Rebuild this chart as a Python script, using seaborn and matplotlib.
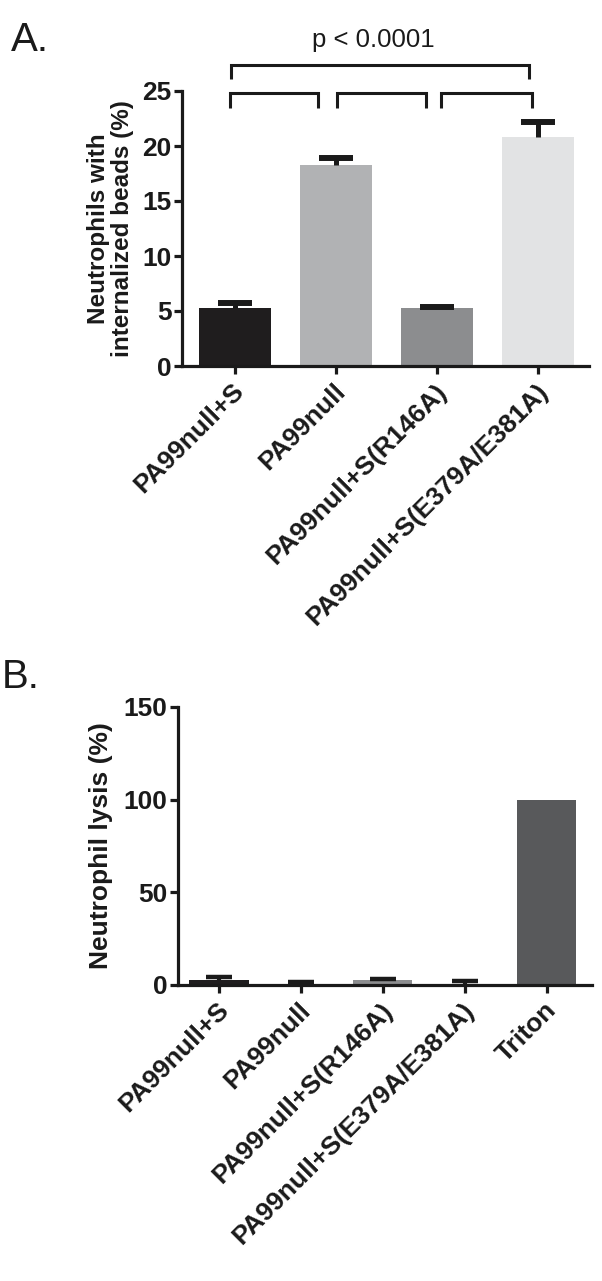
import matplotlib
matplotlib.use("Agg")
import matplotlib.pyplot as plt
import matplotlib.transforms as mtransforms
from matplotlib import font_manager
import seaborn as sns
import pandas as pd
import numpy as np

# ---------------- data ----------------
cats_a = ["PA99null+S", "PA99null", "PA99null+S(R146A)", "PA99null+S(E379A/E381A)"]
vals_a = [5.27, 18.3, 5.25, 20.8]
err_a = [0.43, 0.65, 0.12, 1.35]
colors_a = ["#1f1d1e", "#b1b2b4", "#8c8d8f", "#e2e3e4"]
yticks_a = [0, 5, 10, 15, 20, 25]

cats_b = ["PA99null+S", "PA99null", "PA99null+S(R146A)", "PA99null+S(E379A/E381A)", "Triton"]
vals_b = [2.6, 0.6, 2.9, 0.8, 100.0]
err_b = [1.5, 0.9, 0.6, 1.2, 0.0]
colors_b = ["#1f1d1e", "#b1b2b4", "#8c8d8f", "#e2e3e4", "#58595b"]
yticks_b = [0, 50, 100, 150]

ptext = "p < 0.0001"
ylabel_a = "Neutrophils with\ninternalized beads (%)"
ylabel_b = "Neutrophil lysis (%)"

# ---------------- style ----------------
sns.set_theme(style="ticks")
names = {f.name for f in font_manager.fontManager.ttflist}
fam = "Liberation Sans" if "Liberation Sans" in names else "DejaVu Sans"
plt.rcParams["font.family"] = [fam, "DejaVu Sans"]

fig = plt.figure(figsize=(6.02, 12.81), dpi=100)
W, H = 602, 1281
INK = "#1a1a1a"

def px_axes(l, r, top, bot):
    return fig.add_axes([l / W, 1 - bot / H, (r - l) / W, (bot - top) / H])

SP = 2.3  # spine width

def style_axis(ax, yticks, ylim, xlim, fs=19):
    ax.set_ylim(*ylim)
    ax.set_xlim(*xlim)
    ax.set_yticks(yticks)
    for s in ["top", "right"]:
        ax.spines[s].set_visible(False)
    for s in ["left", "bottom"]:
        ax.spines[s].set_linewidth(SP)
        ax.spines[s].set_color(INK)
        ax.spines[s].set_capstyle("projecting")
    ax.tick_params(axis="both", direction="out", length=5.5, width=SP, color=INK,
                   labelsize=fs, pad=2)
    for lab in ax.get_yticklabels():
        lab.set_fontweight("bold")
        lab.set_color(INK)
    ax.set_xlabel("")
    ax.patch.set_alpha(0)

def rot_labels(ax, labels, fs=19):
    ax.set_xticks(range(len(labels)))
    ax.set_xticklabels(labels, rotation=45, ha="right", va="top",
                       rotation_mode="anchor", fontsize=fs, fontweight="bold",
                       color=INK)
    off = mtransforms.ScaledTranslation(-2 / 72, -2 / 72, fig.dpi_scale_trans)
    for lab in ax.get_xticklabels():
        lab.set_transform(lab.get_transform() + off)

def up_errors(ax, vals, errs, half, stem_lw, cap_lw):
    x = np.arange(len(vals))
    v = np.asarray(vals, float)
    e = np.asarray(errs, float)
    m = e > 0
    ax.errorbar(x[m], v[m], yerr=[np.zeros(m.sum()), e[m]], fmt="none",
                ecolor=INK, elinewidth=stem_lw, capsize=0, zorder=5)
    ax.hlines(v[m] + e[m], x[m] - half, x[m] + half, colors=INK, lw=cap_lw, zorder=6)

# ---------------- Panel A ----------------
axA = px_axes(182, 589, 91, 366)
dfA = pd.DataFrame({"cat": cats_a, "val": vals_a})
sns.barplot(data=dfA, x="cat", y="val", hue="cat", palette=colors_a, legend=False,
            width=0.71, saturation=1, errorbar=None, ax=axA, linewidth=0)
up_errors(axA, vals_a, err_a, 0.168, 3.6, 4.3)
style_axis(axA, yticks_a, (0, 25), (-0.52, 3.5))
rot_labels(axA, cats_a)
axA.set_ylabel(ylabel_a, fontsize=17.5, fontweight="bold", color=INK,
               linespacing=1.05, labelpad=6)

# significance brackets
lw_b = 2.2
def bracket(ax, x0, x1, ytop, ybot):
    ax.plot([x0, x0, x1, x1], [ybot, ytop, ytop, ybot], color=INK, lw=lw_b,
            clip_on=False, solid_joinstyle="miter", solid_capstyle="butt")

bracket(axA, -0.05, 0.82, 24.8, 23.5)
bracket(axA, 1.01, 1.89, 24.8, 23.5)
bracket(axA, 2.04, 2.94, 24.8, 23.5)
bracket(axA, -0.04, 2.91, 27.4, 26.1)
axA.text(1.37, 29.6, ptext, ha="center", va="center", fontsize=18.5, color=INK)

fig.text(11 / W, 1 - 51 / H, "A.", fontsize=29, color=INK, ha="left", va="baseline")

# ---------------- Panel B ----------------
axB = px_axes(178, 592, 707, 985)
dfB = pd.DataFrame({"cat": cats_b, "val": vals_b})
sns.barplot(data=dfB, x="cat", y="val", hue="cat", palette=colors_b, legend=False,
            width=0.72, saturation=1, errorbar=None, ax=axB, linewidth=0)
up_errors(axB, vals_b, err_b, 0.16, 3.0, 3.2)
style_axis(axB, yticks_b, (0, 150), (-0.5, 4.55))
rot_labels(axB, cats_b)
axB.set_ylabel(ylabel_b, fontsize=19, fontweight="bold", color=INK, labelpad=8)

fig.text(2 / W, 1 - 688 / H, "B.", fontsize=29, color=INK, ha="left", va="baseline")

fig.savefig("out.png", dpi=100)
